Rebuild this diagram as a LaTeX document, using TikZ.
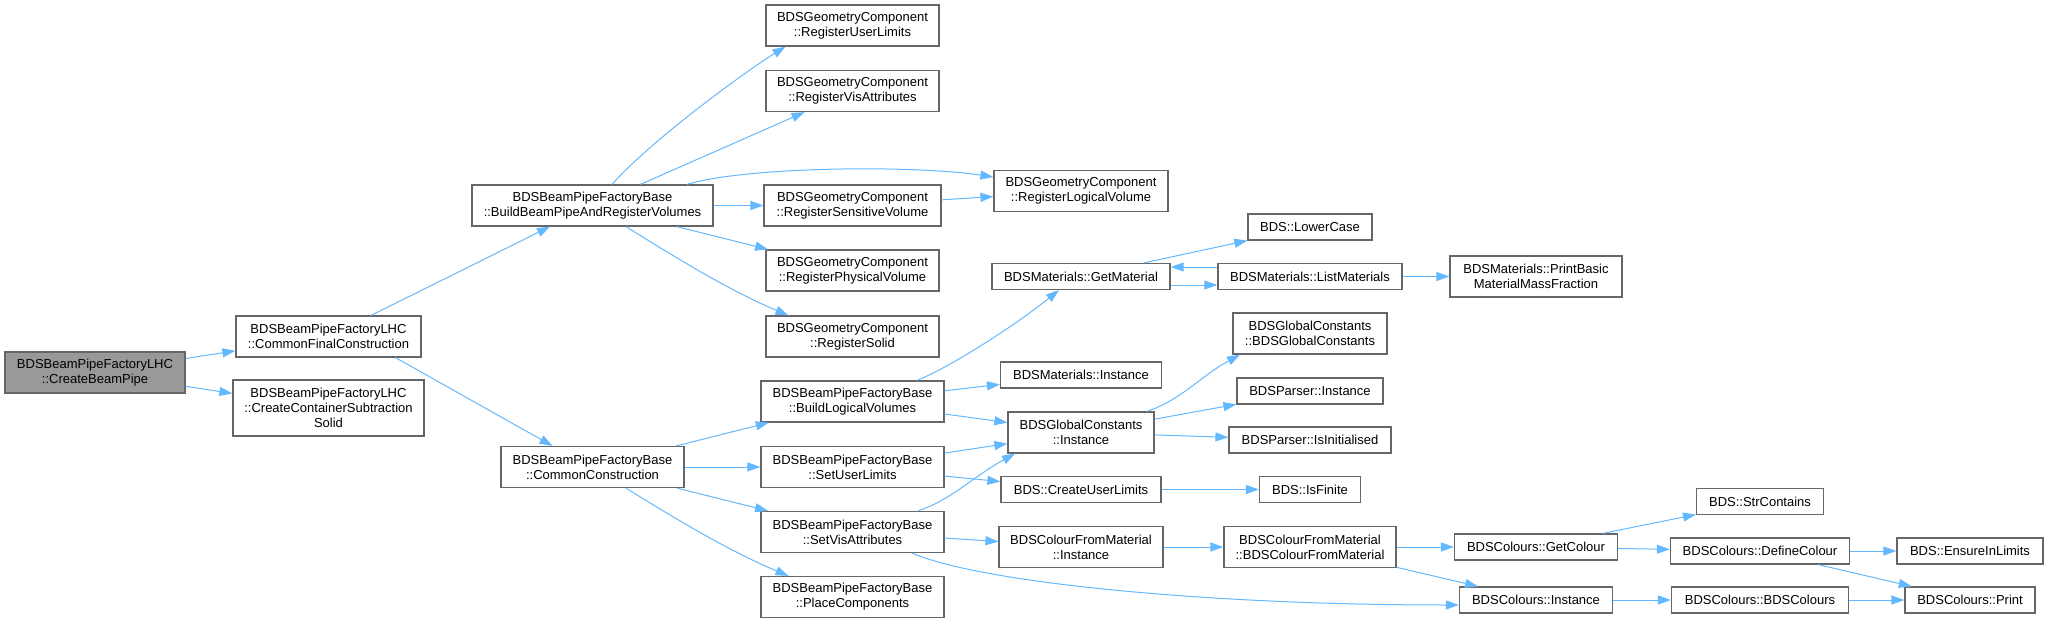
\documentclass[tikz,border=0pt]{standalone}
\usepackage{fontspec}
\setmainfont{Liberation Sans}
\usepackage{tikz}
\usetikzlibrary{arrows.meta,calc}
\usepackage{xcolor}
\definecolor{edgeblue}{HTML}{63B8FF}
\definecolor{boxgray}{HTML}{666666}
\definecolor{nodegray}{HTML}{999999}

\begin{document}
\begin{tikzpicture}[x=1pt,y=-1pt,
  func/.style={draw=boxgray,line width=1.2pt,fill=white,align=center,inner sep=0pt,
    minimum width=#1,minimum height=26pt,font=\fontsize{13}{15}\selectfont},
  tall/.style={minimum height=41pt},
  taller/.style={minimum height=56pt},
  call/.style={edgeblue,line width=1pt,-{Triangle[length=13pt,width=9pt]}}
  ]
\def\cA{95}
\def\cB{328.5}
\def\cC{592.5}
\def\cD{852.5}
\def\cE{1081}
\def\cF{1310}
\def\cG{1536}
\def\cH{1760}
\def\cI{1970}
\useasboundingbox (0,0) rectangle (2045,623);
% first three columns
\node[func=180pt,tall,fill=nodegray] (cbp) at (\cA,372.5) {BDSBeamPipeFactoryLHC\\::CreateBeamPipe};
\node[func=185pt,tall] (cfc) at (\cB,336.5) {BDSBeamPipeFactoryLHC\\::CommonFinalConstruction};
\node[func=191pt,taller] (ccs) at (\cB,408) {BDSBeamPipeFactoryLHC\\::CreateContainerSubtraction\\Solid};
\node[func=241pt,tall] (bbp) at (\cC,205.5) {BDSBeamPipeFactoryBase\\::BuildBeamPipeAndRegisterVolumes};
\node[func=183pt,tall] (cc) at (\cC,467) {BDSBeamPipeFactoryBase\\::CommonConstruction};
% geometry component and factory base
\node[func=173pt,tall] (rul) at (\cD,25.5) {BDSGeometryComponent\\::RegisterUserLimits};
\node[func=173pt,tall] (rva) at (\cD,91) {BDSGeometryComponent\\::RegisterVisAttributes};
\node[func=177pt,tall] (rsv) at (\cD,205.5) {BDSGeometryComponent\\::RegisterSensitiveVolume};
\node[func=173pt,tall] (rpv) at (\cD,270.5) {BDSGeometryComponent\\::RegisterPhysicalVolume};
\node[func=173pt,tall] (rso) at (\cD,336.5) {BDSGeometryComponent\\::RegisterSolid};
\node[func=183pt,tall] (blv) at (\cD,401.5) {BDSBeamPipeFactoryBase\\::BuildLogicalVolumes};
\node[func=183pt,tall] (sul) at (\cD,467) {BDSBeamPipeFactoryBase\\::SetUserLimits};
\node[func=183pt,tall] (sva) at (\cD,532) {BDSBeamPipeFactoryBase\\::SetVisAttributes};
\node[func=183pt,tall] (pc) at (\cD,597) {BDSBeamPipeFactoryBase\\::PlaceComponents};
% fifth column
\node[func=174pt,tall] (rlv) at (\cE,191) {BDSGeometryComponent\\::RegisterLogicalVolume};
\node[func=178pt] (gm) at (\cE,276.5) {BDSMaterials::GetMaterial};
\node[func=161pt] (mi) at (\cE,375) {BDSMaterials::Instance};
\node[func=146pt,tall] (gci) at (\cE,432.5) {BDSGlobalConstants\\::Instance};
\node[func=160pt] (cul) at (\cE,489.5) {BDS::CreateUserLimits};
\node[func=164pt,tall] (cfmi) at (\cE,547) {BDSColourFromMaterial\\::Instance};
% sixth column
\node[func=124pt] (lc) at (\cF,227) {BDS::LowerCase};
\node[func=184pt] (lm) at (\cF,276.5) {BDSMaterials::ListMaterials};
\node[func=154pt,tall] (gcc) at (\cF,333.5) {BDSGlobalConstants\\::BDSGlobalConstants};
\node[func=146pt] (pi) at (\cF,391) {BDSParser::Instance};
\node[func=162pt] (pii) at (\cF,440) {BDSParser::IsInitialised};
\node[func=101pt] (isf) at (\cF,489.5) {BDS::IsFinite};
\node[func=172pt,tall] (cfm) at (\cF,547) {BDSColourFromMaterial\\::BDSColourFromMaterial};
% colours
\node[func=172pt,tall] (pbm) at (\cG,276.5) {BDSMaterials::PrintBasic\\MaterialMassFraction};
\node[func=163pt] (gc) at (\cG,547) {BDSColours::GetColour};
\node[func=153pt] (ci) at (\cG,600) {BDSColours::Instance};
\node[func=127pt] (sc) at (\cH,501.5) {BDS::StrContains};
\node[func=179pt] (dc) at (\cH,551) {BDSColours::DefineColour};
\node[func=177pt] (bc) at (\cH,600) {BDSColours::BDSColours};
\node[func=146pt] (eil) at (\cI,551) {BDS::EnsureInLimits};
\node[func=130pt] (pr) at (\cI,600) {BDSColours::Print};
% calls
\draw[call] (cbp) -- (cfc);
\draw[call] (cbp) -- (ccs);
\draw[call] (cfc) -- (bbp);
\draw[call] ([xshift=67pt]cfc.south) -- ([xshift=-40pt]cc.north);
\draw[call] ([xshift=19.5pt]bbp.north) .. controls +(40,-45) and +(-40,25) .. ([xshift=-67pt]rul.south);
\draw[call] (bbp) -- (rva);
\draw[call] ([xshift=94.5pt]bbp.north) .. controls +(60,-18) and +(-80,-12) .. ([yshift=14pt]rlv.west);
\draw[call] (bbp) -- (rsv);
\draw[call] (bbp) -- (rpv);
\draw[call] ([xshift=33.5pt]bbp.south) .. controls +(45,28) and +(-60,-25) .. ([xshift=-64pt]rso.north);
\draw[call] (rsv) -- (rlv);
\draw[call] (cc) -- (blv);
\draw[call] (cc) -- (sul);
\draw[call] (cc) -- (sva);
\draw[call] ([xshift=33.5pt]cc.south) .. controls +(45,28) and +(-60,-25) .. ([xshift=-64pt]pc.north);
\draw[call] ([xshift=64.5pt]blv.north) .. controls +(30,-12) and +(-50,40) .. ([xshift=-22pt]gm.south);
\draw[call] (blv) -- (mi);
\draw[call] (blv) -- (gci);
\draw[call] (sul) -- (gci);
\draw[call] (sul) -- (cul);
\draw[call] ([xshift=65.5pt]sva.north) .. controls +(35,-12) and +(-45,25) .. ([xshift=-66pt]gci.south);
\draw[call] (sva) -- (cfmi);
\draw[call] ([xshift=59.5pt]sva.south) .. controls +(70,30) and +(-250,0) .. ([yshift=-5pt]ci.west);
\draw[call] (gm) -- (lc);
\draw[call] ([yshift=-8.5pt]gm.east) -- ([yshift=-8.5pt]lm.west);
\draw[call] ([yshift=9.5pt]lm.west) -- ([yshift=9.5pt]gm.east);
\draw[call] (lm) -- (pbm);
\draw[call] ([xshift=66pt]gci.north) .. controls +(35,-12) and +(-40,22) .. ([xshift=-70pt]gcc.south);
\draw[call] (gci) -- (pi);
\draw[call] (gci) -- (pii);
\draw[call] (cul) -- (isf);
\draw[call] (cfmi) -- (cfm);
\draw[call] (cfm) -- (gc);
\draw[call] (cfm) -- (ci);
\draw[call] (gc) -- (sc);
\draw[call] (gc) -- (dc);
\draw[call] (dc) -- (eil);
\draw[call] (dc) -- (pr);
\draw[call] (ci) -- (bc);
\draw[call] (bc) -- (pr);
\end{tikzpicture}
\end{document}
